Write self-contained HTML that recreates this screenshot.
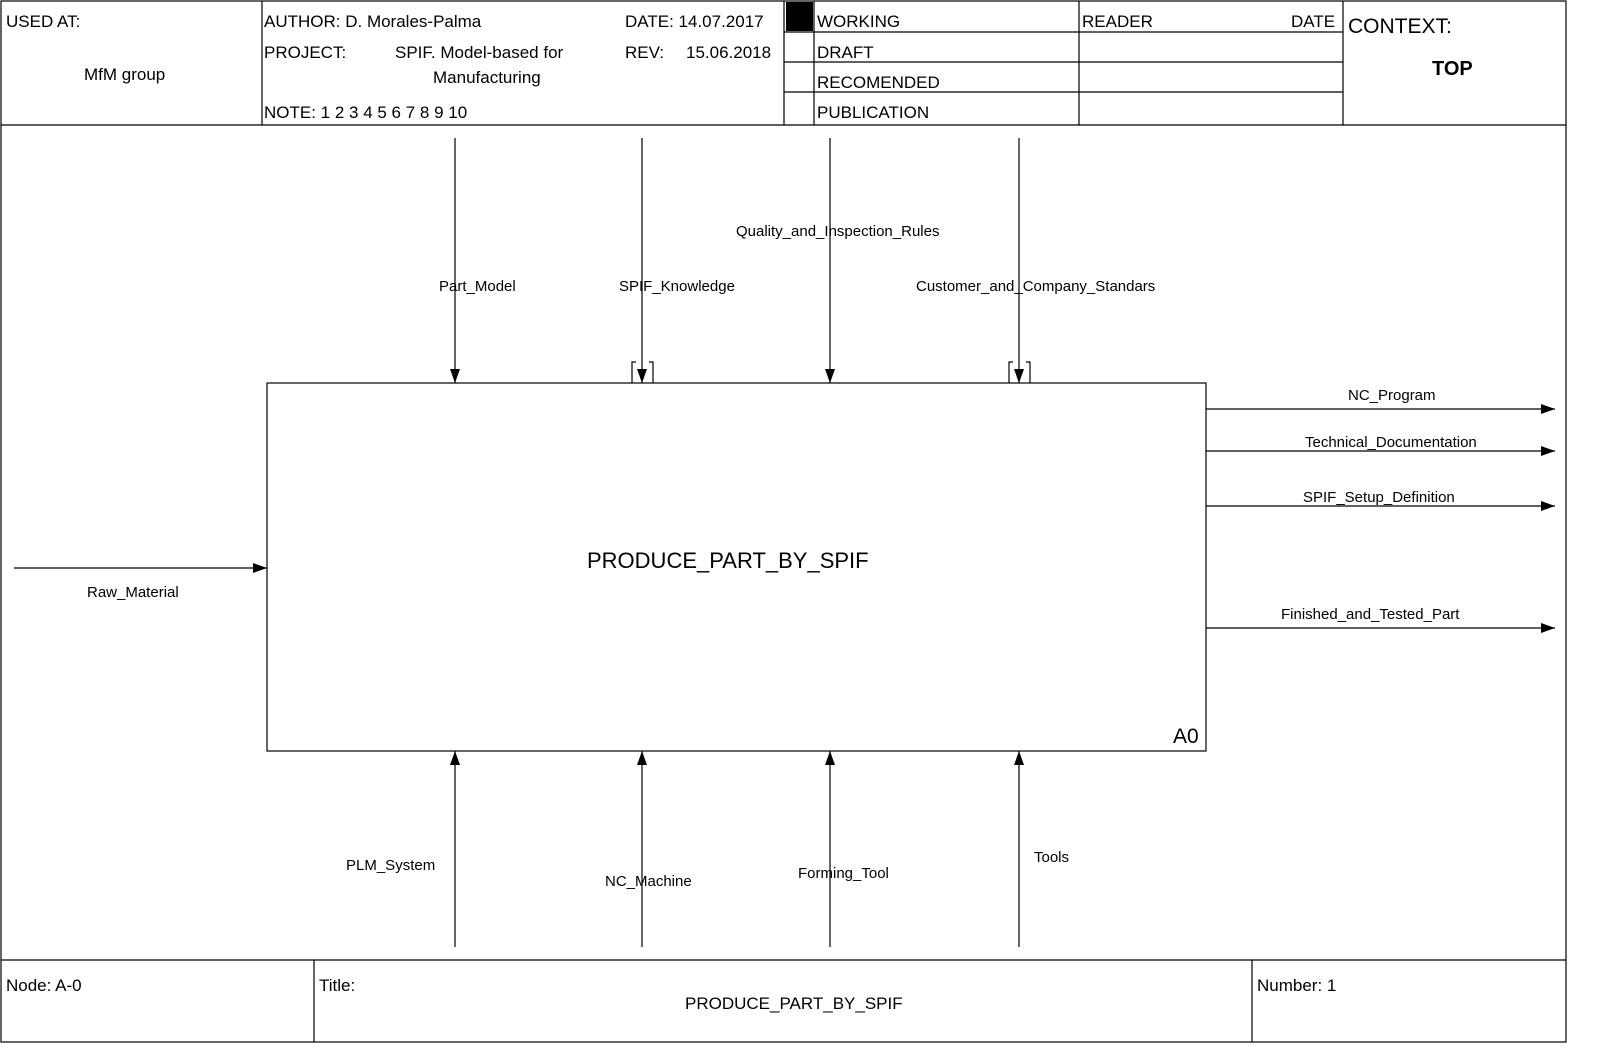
<!DOCTYPE html>
<html><head><meta charset="utf-8"><style>
html,body{margin:0;padding:0;background:#fff;}
svg{display:block;font-family:"Liberation Sans",sans-serif;}
</style></head><body>
<svg width="1599" height="1064" viewBox="0 0 1599 1064" xmlns="http://www.w3.org/2000/svg">
<defs>
<marker id="ah" markerWidth="14" markerHeight="10" refX="14" refY="5" orient="auto" markerUnits="userSpaceOnUse">
<path d="M0,0 L14,5 L0,10 z" fill="#000"/></marker>
</defs>
<g stroke="#000" stroke-width="1.2" fill="none">
<rect x="1" y="1" width="1565" height="1041"/>
<line x1="1" y1="125" x2="1566" y2="125"/>
<line x1="262" y1="1" x2="262" y2="125"/>
<line x1="784" y1="1" x2="784" y2="125"/>
<line x1="814" y1="1" x2="814" y2="125"/>
<line x1="1079" y1="1" x2="1079" y2="125"/>
<line x1="1343" y1="1" x2="1343" y2="125"/>
<line x1="784" y1="32" x2="1343" y2="32"/>
<line x1="784" y1="62" x2="1343" y2="62"/>
<line x1="784" y1="92" x2="1343" y2="92"/>
<line x1="1" y1="960" x2="1566" y2="960"/>
<line x1="314" y1="960" x2="314" y2="1042"/>
<line x1="1252" y1="960" x2="1252" y2="1042"/>
<rect x="267" y="383" width="939" height="368"/>
</g>
<rect x="786" y="2" width="27" height="29" fill="#000"/>
<g font-size="17" fill="#000">
<text x="6" y="27">USED AT:</text>
<text x="84" y="80">MfM group</text>
<text x="264" y="27">AUTHOR: D. Morales-Palma</text>
<text x="264" y="58">PROJECT:</text>
<text x="395" y="58">SPIF. Model-based for</text>
<text x="433" y="83">Manufacturing</text>
<text x="264" y="118">NOTE: 1 2 3 4 5 6 7 8 9 10</text>
<text x="625" y="27">DATE: 14.07.2017</text>
<text x="625" y="58">REV:</text>
<text x="686" y="58">15.06.2018</text>
<text x="817" y="27">WORKING</text>
<text x="817" y="58">DRAFT</text>
<text x="817" y="88">RECOMENDED</text>
<text x="817" y="118">PUBLICATION</text>
<text x="1082" y="27">READER</text>
<text x="1291" y="27">DATE</text>
<text x="1348" y="33" font-size="21">CONTEXT:</text>
<text x="1432" y="75" font-size="20" font-weight="bold">TOP</text>
<text x="6" y="991">Node: A-0</text>
<text x="319" y="991">Title:</text>
<text x="685" y="1009">PRODUCE_PART_BY_SPIF</text>
<text x="1257" y="991">Number: 1</text>
</g>
<text x="587" y="568" font-size="22">PRODUCE_PART_BY_SPIF</text>
<text x="1173" y="743" font-size="21">A0</text>
<g stroke="#000" stroke-width="1.2" fill="none">
<line x1="455" y1="138" x2="455" y2="383" marker-end="url(#ah)"/>
<line x1="642" y1="138" x2="642" y2="383" marker-end="url(#ah)"/>
<line x1="830" y1="138" x2="830" y2="383" marker-end="url(#ah)"/>
<line x1="1019" y1="138" x2="1019" y2="383" marker-end="url(#ah)"/>
<path d="M636,362 H632 V383 M649,362 H653 V383"/>
<path d="M1013,362 H1009 V383 M1026,362 H1030 V383"/>
<line x1="455" y1="947" x2="455" y2="751" marker-end="url(#ah)"/>
<line x1="642" y1="947" x2="642" y2="751" marker-end="url(#ah)"/>
<line x1="830" y1="947" x2="830" y2="751" marker-end="url(#ah)"/>
<line x1="1019" y1="947" x2="1019" y2="751" marker-end="url(#ah)"/>
<line x1="14" y1="568" x2="267" y2="568" marker-end="url(#ah)"/>
<line x1="1206" y1="409" x2="1555" y2="409" marker-end="url(#ah)"/>
<line x1="1206" y1="451" x2="1555" y2="451" marker-end="url(#ah)"/>
<line x1="1206" y1="506" x2="1555" y2="506" marker-end="url(#ah)"/>
<line x1="1206" y1="628" x2="1555" y2="628" marker-end="url(#ah)"/>
</g>
<g font-size="15" fill="#000">
<text x="439" y="291">Part_Model</text>
<text x="619" y="291">SPIF_Knowledge</text>
<text x="736" y="236">Quality_and_Inspection_Rules</text>
<text x="916" y="291">Customer_and_Company_Standars</text>
<text x="87" y="597">Raw_Material</text>
<text x="1348" y="400">NC_Program</text>
<text x="1305" y="447">Technical_Documentation</text>
<text x="1303" y="502">SPIF_Setup_Definition</text>
<text x="1281" y="619">Finished_and_Tested_Part</text>
<text x="346" y="870">PLM_System</text>
<text x="605" y="886">NC_Machine</text>
<text x="798" y="878">Forming_Tool</text>
<text x="1034" y="862">Tools</text>
</g>
</svg>
</body></html>
